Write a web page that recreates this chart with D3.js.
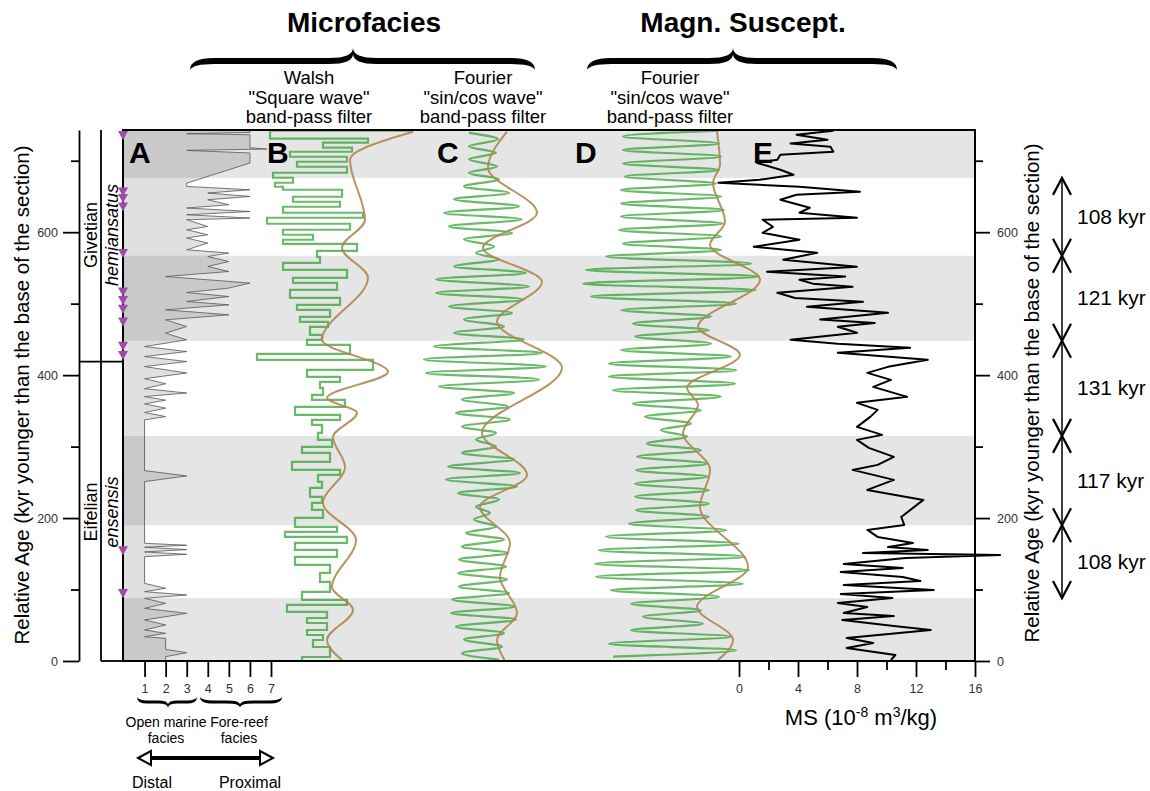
<!DOCTYPE html>
<html>
<head>
<meta charset="utf-8">
<script src="https://cdnjs.cloudflare.com/ajax/libs/d3/7.8.5/d3.min.js"></script>
<style>
  body { margin: 0; background: #fff; }
  svg { font-family: "Liberation Sans", Arial, sans-serif; }
</style>
</head>
<body>
<svg id="chart" width="1150" height="791"></svg>
<script>
// ---- data (ages in kyr above the base of the section) ----
var ageMax = 743;
var stageBoundary = 419;
var cycleBounds = [676, 567, 448, 315, 190, 88];
var cycleLabels = ["108 kyr", "121 kyr", "131 kyr", "117 kyr", "108 kyr"];
var bands = [[676, 743], [448, 567], [190, 315], [0, 88]];
var conodontAges = [736, 657, 648, 636, 571, 517, 505, 493, 475, 441, 428, 155, 95];

// A: microfacies curve [age, facies]
var facies = [[0,2],[6,2],[11.7,3],[16.3,2],[31.7,2],[34,1],[38.7,2],[43.4,1],[50.4,2],[57.4,1],[66.7,3],[73.7,1],
  [80.7,2],[87.7,1],[92.4,3],[97,1],[101.7,2],[108.7,1],[146,1],[149.3,3],[152.6,1],[155.9,3],[159.2,1],[162,3],
  [164.7,1],[251,1],[259,3],[266.4,1],[337.4,1],[342,2],[347.6,1],[353.8,2],[359.8,1],[365,2],[370,1],[375,3],
  [381,1],[388,2],[395,1],[403,3],[412,1],[419,3],[426,1],[433,3],[440,1],[449.4,3],[458.7,2],[468,3],[477.4,2],
  [484.4,5],[491.4,2],[498.4,5],[503,3],[510,5],[515.6,3],[521.8,5],[528.8,6],[533.4,4],[538,2],[545,5],[552,4],
  [559,5],[566,4],[570.8,5],[575.4,3],[584.8,4],[591.8,3],[596.4,4],[603.4,3],[608,4],[617.4,3],[619.8,6],
  [624.4,3],[629,6],[633.8,3],[638.4,5],[645.4,4],[650,6],[654.8,4],[659.4,6],[664,3],[668.6,3],[696.8,6],
  [710.8,6],[714.5,3],[716.4,6.8],[718.2,6],[736.4,6],[737.8,3],[739.6,6],[743,6]];

// B: Walsh square-wave filter levels [age where level starts, value]
var walsh = [[0,0.2],[5.6,3.0],[19.6,1.3],[29.4,2.3],[36.4,0.7],[43.4,2.7],[53.2,0.7],[60.2,2.7],[68.6,-1.3],
  [78.4,4.7],[85.4,0.2],[96.6,3.0],[110.6,2.0],[123.2,3.0],[134.4,-0.5],[145.6,3.7],[155.4,-0.5],[165.2,4.7],
  [173.6,-1.5],[180.6,3.7],[187.6,-0.5],[200.2,2.3],[211.4,1.2],[221.2,2.2],[229.6,1.0],[242.2,2.2],[250.6,1.8],
  [260.4,4.0],[267.4,-0.8],[278.6,3.0],[291.2,0.2],[299.6,3.2],[309.4,1.8],[319.2,2.2],[330.4,1.2],[337.4,4.0],
  [344.4,-0.5],[355.6,4.5],[365.4,1.2],[372.4,2.3],[382.2,2.0],[390.6,4.0],[397.6,0.7],[407.4,7.3],[421.4,-4.3],
  [429.8,5.0],[442.4,0.7],[449.4,2.2],[456.4,1.0],[467.6,2.8],[474.6,0],[481.6,3.0],[491.4,-0.3],[498.4,4.0],
  [508.2,-1.0],[519.4,3.7],[529.2,-0.7],[536.2,4.7],[547.4,-1.7],[557.2,2.0],[565.6,1.7],[574,5.7],[583.8,-1.7],
  [589.4,1.3],[596.4,-1.7],[603.4,5.0],[611.8,-3.3],[620.2,6.3],[627.2,-1.7],[635.6,4.0],[642.6,-0.7],[649.6,4.2],
  [659.4,-1.7],[663.6,-2.5],[669.2,-0.7],[676.2,-2.7],[683.2,4.7],[691.6,-0.3],[698.6,4.7],[705.6,-1.0],
  [712.6,5.2],[718.2,2.3],[725.2,6.8],[730.8,-3.0],[742,11.3]];
var walshLong = [[0,4.3],[29.4,2.7],[71.4,5.3],[103.6,3.2],[169.4,5.6],[221.2,2.3],[271.6,4.5],[313.6,3.3],
  [347.2,5.7],[368.2,2.7],[404.6,8.8],[449.4,2.2],[536.2,6.8],[578.2,4.2],[617.4,6.5],[701.4,5.0],[740.6,11.3]];

// C: Fourier filter of microfacies, extremes [age, value]
var fourierMF = [[2,1.5],[11,-2.2],[20,1.8],[30,-2.0],[39,2.0],[48,-2.8],[58,3.2],[67,-3.3],[76,3.0],[86,-3.2],
  [95,2.5],[104,-2.5],[114,2.3],[123,-2.6],[132,2.2],[142,-2.5],[151,2.4],[160,-2.2],[170,2.0],[179,-1.8],
  [188,1.2],[198,-1.0],[207,0.6],[216,-0.8],[226,1.5],[235,-2.6],[244,3.3],[254,-3.8],[263,3.6],[272,-3.6],
  [282,3.0],[291,-2.2],[300,1.2],[310,-0.8],[319,1.2],[328,-2.2],[338,2.6],[347,-2.8],[356,2.4],[366,-2.2],
  [375,3.0],[384,-4.5],[394,5.5],[403,-5.8],[412,6.2],[422,-6.0],[431,5.8],[440,-5.0],[450,4.0],[459,-3.0],
  [468,2.0],[478,-2.0],[487,2.8],[496,-3.5],[506,4.0],[515,-4.8],[524,4.5],[534,-4.8],[543,4.2],[552,-3.0],
  [562,1.5],[571,-0.8],[580,1.0],[590,-2.0],[599,2.8],[608,-3.5],[618,3.8],[627,-4.0],[636,3.5],[646,-3.0],
  [655,2.5],[664,-2.0],[674,1.5],[683,-1.5],[692,1.3],[702,-1.5],[711,1.2],[720,-1.5],[730,1.4],[739,-1.5]];
var fourierMFLong = [[0,2.1],[29.4,1.3],[67.2,3.3],[117.6,1.6],[165.2,2.6],[215.6,-0.4],[260.4,4.3],[319.2,-0.2],
  [410.2,7.8],[474.6,1.3],[530.6,5.8],[578.2,-0.1],[627.2,5.3],[690.2,0.4],[740.6,2.3]];

// D: Fourier filter of magnetic susceptibility, extremes [age, value]
var fourierMS = [[6,-5.8],[15,6.5],[24,-6.2],[34,6.0],[43,-4.0],[52,3.2],[62,-2.8],[71,3.0],[80,-4.0],[90,4.8],
  [99,-6.0],[108,7.2],[118,-7.5],[127,7.8],[136,-7.6],[146,7.4],[155,-7.2],[164,6.8],[174,-6.5],[183,5.5],
  [192,-4.2],[202,3.8],[211,-3.5],[220,3.8],[230,-3.6],[239,3.8],[248,-3.6],[258,3.7],[267,-3.5],[276,3.6],
  [286,-3.4],[295,3.0],[304,-2.4],[314,1.6],[323,-1.0],[332,2.0],[342,-2.6],[351,3.0],[360,-3.8],[370,5.0],
  [379,-5.8],[388,6.4],[398,-6.2],[407,6.5],[416,-6.2],[426,6.0],[435,-5.0],[444,4.0],[454,-3.6],[463,3.8],
  [472,-3.8],[482,4.0],[491,-5.0],[500,6.5],[510,-8.0],[519,8.5],[528,-8.8],[538,8.8],[547,-8.5],[556,8.0],
  [566,-6.5],[575,5.0],[584,-4.8],[594,5.0],[603,-5.2],[612,5.2],[622,-5.0],[631,5.3],[640,-5.0],[650,5.0],
  [659,-5.0],[668,4.5],[678,-4.6],[687,4.8],[696,-4.8],[706,5.0],[715,-4.8],[724,4.8],[734,-4.8],[742,4.8]];
var fourierMSLong = [[0,4.6],[29.4,6.2],[75.6,2.6],[131.6,7.7],[215.6,2.9],[267.4,3.9],[319.2,1.2],[358.4,2.7],
  [382.2,1.6],[428.4,6.9],[467.6,2.7],[533.4,8.9],[582.4,3.9],[614.6,5.4],[669.2,4.2],[694.4,4.9],[740.6,4.6]];

// E: magnetic susceptibility [age, MS 1e-8 m3/kg]
var ms = [[1.4,10.3],[8.4,10.6],[18.2,7.3],[25.2,9.1],[32.2,7.3],[43.4,13.0],[49,10.5],[57.4,7.0],[63,10.5],
  [67.2,7.1],[75.6,8.7],[81.2,6.7],[88.2,10.4],[93.8,6.9],[99.4,13.2],[106.4,7.1],[112,12.3],[117.6,11.1],
  [124.6,6.9],[130.2,11.1],[135.8,7.1],[144.2,11.3],[148.4,17.7],[151.2,8.4],[155.4,12.8],[159.6,10.1],
  [165.2,11.8],[173.6,9.4],[183.4,8.7],[190.4,11.2],[201.6,11.0],[225.4,12.5],[239.4,8.7],[253.4,10.5],
  [267.4,7.7],[274.4,9.4],[285.6,10.5],[298.2,8.8],[309.4,8.0],[316.4,9.7],[327.6,8.0],[341.6,8.9],[351.4,9.4],
  [361.2,8.0],[369.6,11.4],[383.6,9.1],[393.4,10.3],[403.2,8.7],[411.6,10.1],[421.4,12.8],[431.2,6.7],
  [438.2,11.6],[443.8,6.7],[449.4,3.5],[459.2,8.0],[467.6,6.7],[473,9.2],[478,5.5],[487.2,10.1],[495.6,4.6],
  [502.6,8.4],[508,3.8],[515.2,2.6],[523.6,7.7],[528,5.0],[533.4,4.1],[538,7.2],[544.6,1.9],[551.6,8.0],
  [561.4,3.0],[571.2,5.3],[579.6,1.0],[589.4,4.1],[599.2,1.6],[607.6,2.3],[617.4,1.6],[620.2,8.0],[627.2,4.1],
  [634.2,4.8],[645.4,2.8],[652.4,3.9],[656.6,8.2],[663.6,4.1],[669.2,-1.4],[673.4,1.4],[680.4,3.7],[687.4,2.8],
  [697.2,1.2],[701.4,2.6],[708.4,2.8],[712.6,6.4],[719.6,6.2],[724,3.5],[729.4,6.0],[736.4,3.9],[742,6.4]];

var ageTicks = [0, 200, 400, 600];
var ageMinor = [100, 300, 500, 700];
var faciesTicks = [1, 2, 3, 4, 5, 6, 7];
var msTicks = [0, 4, 8, 12, 16];
var msMinor = [2, 6, 10, 14];

// ---- layout ----
var svg = d3.select("#chart");
var frameL = 123, frameR = 975, frameT = 130, frameB = 661;
var y = d3.scaleLinear().domain([0, ageMax]).range([frameB, frameT]);
var xA = d3.scaleLinear().domain([0, 7]).range([123.5, 271]);
var xB = d3.scaleLinear().domain([-5, 5]).range([250, 350]);
var xC = d3.scaleLinear().domain([-5, 5]).range([434, 534]);
var xD = d3.scaleLinear().domain([-5, 5]).range([621, 721]);
var xE = d3.scaleLinear().domain([0, 16]).range([739, 975]);

var green = "#2a9d2a", brown = "#b08650";

// grey cycle bands
svg.selectAll("rect.band").data(bands).enter().append("rect")
  .attr("x", frameL).attr("width", frameR - frameL)
  .attr("y", function (d) { return y(d[1]); })
  .attr("height", function (d) { return y(d[0]) - y(d[1]); })
  .style("fill", "#e5e5e5");

// A facies
svg.append("path").datum(facies)
  .attr("d", d3.area().x0(xA(0)).x1(function (d) { return xA(d[1]); }).y(function (d) { return y(d[0]); }))
  .style("fill", "#000").style("fill-opacity", 0.12);
svg.append("path").datum(facies)
  .attr("d", d3.line().x(function (d) { return xA(d[1]); }).y(function (d) { return y(d[0]); }))
  .style("fill", "none").style("stroke", "#555").style("stroke-width", 0.8);

// B, C, D filter curves
function curve(data, xs, c) {
  return d3.line().x(function (d) { return xs(d[1]); }).y(function (d) { return y(d[0]); }).curve(c)(data);
}
svg.append("path").attr("d", curve(walsh, xB, d3.curveStepBefore))
  .style("fill", "none").style("stroke", green).style("stroke-width", 2.2).style("stroke-opacity", 0.7);
svg.append("path").attr("d", curve(fourierMF, xC, d3.curveMonotoneY))
  .style("fill", "none").style("stroke", green).style("stroke-width", 2.2).style("stroke-opacity", 0.7);
svg.append("path").attr("d", curve(fourierMS, xD, d3.curveMonotoneY))
  .style("fill", "none").style("stroke", green).style("stroke-width", 2.2).style("stroke-opacity", 0.7);
[[walshLong, xB], [fourierMFLong, xC], [fourierMSLong, xD]].forEach(function (p) {
  svg.append("path").attr("d", curve(p[0], p[1], d3.curveMonotoneY))
    .style("fill", "none").style("stroke", brown).style("stroke-width", 2).style("stroke-opacity", 0.9);
});

// E magnetic susceptibility
svg.append("path").attr("d", curve(ms, xE, d3.curveLinear))
  .style("fill", "none").style("stroke", "#000").style("stroke-width", 2).style("stroke-linejoin", "round");

// frame
svg.append("rect").attr("x", frameL).attr("y", frameT).attr("width", frameR - frameL).attr("height", frameB - frameT)
  .style("fill", "none").style("stroke", "#000").style("stroke-width", 2);

// conodont markers
svg.selectAll("path.tri").data(conodontAges).enter().append("path")
  .attr("d", function (d) { var yy = y(d); return "M" + (frameL - 5) + "," + (yy - 4) + "L" + (frameL + 5) + "," + (yy - 4) + "L" + frameL + "," + (yy + 5) + "Z"; })
  .style("fill", "#a04aa8");

// left age axis
var gL = svg.append("g").attr("transform", "translate(79,0)")
  .call(d3.axisLeft(y).tickValues(ageTicks).tickSize(16).tickSizeOuter(0).tickPadding(5));
svg.append("g").attr("transform", "translate(79,0)")
  .call(d3.axisLeft(y).tickValues(ageMinor).tickSize(8).tickFormat("")).select(".domain").remove();
// right age axis
var gR = svg.append("g").attr("transform", "translate(" + frameR + ",0)")
  .call(d3.axisRight(y).tickValues(ageTicks).tickSize(15).tickPadding(7));
gR.select(".domain").remove();
svg.append("g").attr("transform", "translate(" + frameR + ",0)")
  .call(d3.axisRight(y).tickValues(ageMinor).tickSize(8).tickFormat("")).select(".domain").remove();
// facies axis
var gA = svg.append("g").attr("transform", "translate(0," + frameB + ")")
  .call(d3.axisBottom(xA).tickValues(faciesTicks).tickFormat(d3.format("d")).tickSize(16).tickPadding(7));
gA.select(".domain").remove();
// MS axis
var gE = svg.append("g").attr("transform", "translate(0," + frameB + ")")
  .call(d3.axisBottom(xE).tickValues(msTicks).tickFormat(d3.format("d")).tickSize(16).tickPadding(7));
gE.select(".domain").remove();
svg.append("g").attr("transform", "translate(0," + frameB + ")")
  .call(d3.axisBottom(xE).tickValues(msMinor).tickSize(9).tickFormat("")).select(".domain").remove();
svg.selectAll(".tick line, .domain").style("stroke", "#000").style("stroke-width", 1.8);
svg.selectAll(".tick text").style("font-size", "12.5px").style("fill", "#333")
  .style("font-family", "'Liberation Sans', Arial, sans-serif");

// stage column
svg.append("line").attr("x1", 101).attr("x2", 101).attr("y1", frameT).attr("y2", frameB).style("stroke", "#000").style("stroke-width", 1.8);
svg.append("line").attr("x1", 101).attr("x2", frameL).attr("y1", frameB).attr("y2", frameB).style("stroke", "#000").style("stroke-width", 1.8);
svg.append("line").attr("x1", 79).attr("x2", frameL).attr("y1", y(stageBoundary)).attr("y2", y(stageBoundary)).style("stroke", "#000").style("stroke-width", 1.8);

function vtext(txt, x, yy, size, italic) {
  svg.append("text").attr("transform", "translate(" + x + "," + yy + ") rotate(-90)")
    .attr("text-anchor", "middle").style("font-size", size + "px")
    .style("font-style", italic ? "italic" : "normal").text(txt);
}
vtext("Givetian", 97, 235, 18);
vtext("Eifelian", 97, 512, 18);
vtext("hemiansatus", 118, 235, 18, true);
vtext("ensensis", 118, 512, 18, true);
vtext("Relative Age (kyr younger than the base of the section)", 29, 395, 20.5);
vtext("Relative Age (kyr younger than the base of the section)", 1039, 393, 20.5);

// panel letters
[["A", 129], ["B", 267], ["C", 437], ["D", 575], ["E", 753]].forEach(function (p) {
  svg.append("text").attr("x", p[1]).attr("y", 163).style("font-size", "30px").style("font-weight", "bold").text(p[0]);
});

// headers
function htext(txt, x, yy, size, bold) {
  svg.append("text").attr("x", x).attr("y", yy).attr("text-anchor", "middle")
    .style("font-size", size + "px").style("font-weight", bold ? "bold" : "normal").text(txt);
}
htext("Microfacies", 364, 32, 28, true);
htext("Magn. Suscept.", 743, 32, 28, true);
[[309, ["Walsh", "\"Square wave\"", "band-pass filter"]],
 [483, ["Fourier", "\"sin/cos wave\"", "band-pass filter"]],
 [670, ["Fourier", "\"sin/cos wave\"", "band-pass filter"]]].forEach(function (p) {
  p[1].forEach(function (t, i) { htext(t, p[0], 84 + i * 19.5, 18.5); });
});

// braces
function bracePath(x1, xm, x2, h, b, t) {
  var r = Math.min(24, (x2 - x1) / 6);
  return "M" + x1 + "," + h +
    "Q" + x1 + "," + (b - t) + " " + (x1 + r) + "," + (b - t) +
    "L" + (xm - r) + "," + (b - t) + "Q" + xm + "," + (b - t) + " " + xm + ",0" +
    "Q" + xm + "," + (b - t) + " " + (xm + r) + "," + (b - t) +
    "L" + (x2 - r) + "," + (b - t) + "Q" + x2 + "," + (b - t) + " " + x2 + "," + h +
    "Q" + (x2 - t) + "," + (b + t) + " " + (x2 - r) + "," + (b + t) +
    "L" + (xm + r) + "," + (b + t) + "Q" + xm + "," + (b + t) + " " + xm + "," + (2 * t) +
    "Q" + xm + "," + (b + t) + " " + (xm - r) + "," + (b + t) +
    "L" + (x1 + r) + "," + (b + t) + "Q" + (x1 + t) + "," + (b + t) + " " + x1 + "," + h + "Z";
}
svg.append("path").attr("transform", "translate(0,48)").attr("d", bracePath(190, 353, 535, 22, 13, 3)).style("fill", "#000");
svg.append("path").attr("transform", "translate(0,48)").attr("d", bracePath(587, 733, 897, 22, 13, 3)).style("fill", "#000");
svg.append("path").attr("transform", "translate(0,708) scale(1,-1)").attr("d", bracePath(137, 168, 197, 11, 6, 1.6)).style("fill", "#000");
svg.append("path").attr("transform", "translate(0,708) scale(1,-1)").attr("d", bracePath(200, 240, 282, 11, 6, 1.6)).style("fill", "#000");

htext("Open marine", 166, 727, 14);
htext("facies", 166, 743, 14);
htext("Fore-reef", 239, 727, 14);
htext("facies", 239, 743, 14);
htext("Distal", 152, 788, 16);
htext("Proximal", 250, 788, 16);
svg.append("line").attr("x1", 148).attr("x2", 263).attr("y1", 758).attr("y2", 758).style("stroke", "#000").style("stroke-width", 4);
svg.append("path").attr("d", "M138,758L151,751L151,765Z").style("fill", "#fff").style("stroke", "#000").style("stroke-width", 2);
svg.append("path").attr("d", "M273,758L260,751L260,765Z").style("fill", "#fff").style("stroke", "#000").style("stroke-width", 2);

var msT = svg.append("text").attr("x", 861).attr("y", 725).attr("text-anchor", "middle").style("font-size", "22px");
msT.append("tspan").text("MS (10");
msT.append("tspan").attr("dy", -8).style("font-size", "14px").text("-8");
msT.append("tspan").attr("dy", 8).text(" m");
msT.append("tspan").attr("dy", -8).style("font-size", "14px").text("3");
msT.append("tspan").attr("dy", 8).text("/kg)");

// cycle arrows
var ax = 1062;
d3.range(cycleLabels.length).forEach(function (i) {
  var y1 = y(cycleBounds[i]), y2 = y(cycleBounds[i + 1]);
  svg.append("line").attr("x1", ax).attr("x2", ax).attr("y1", y1).attr("y2", y2).style("stroke", "#000").style("stroke-width", 1.5);
  svg.append("path").attr("d", "M" + (ax - 9) + "," + (y1 + 17) + "L" + ax + "," + y1 + "L" + (ax + 9) + "," + (y1 + 17) +
      "M" + (ax - 9) + "," + (y2 - 17) + "L" + ax + "," + y2 + "L" + (ax + 9) + "," + (y2 - 17))
    .style("fill", "none").style("stroke", "#000").style("stroke-width", 2.2);
  svg.append("text").attr("x", 1077).attr("y", (y1 + y2) / 2 + 7).style("font-size", "21px").text(cycleLabels[i]);
});
</script>
</body>
</html>
